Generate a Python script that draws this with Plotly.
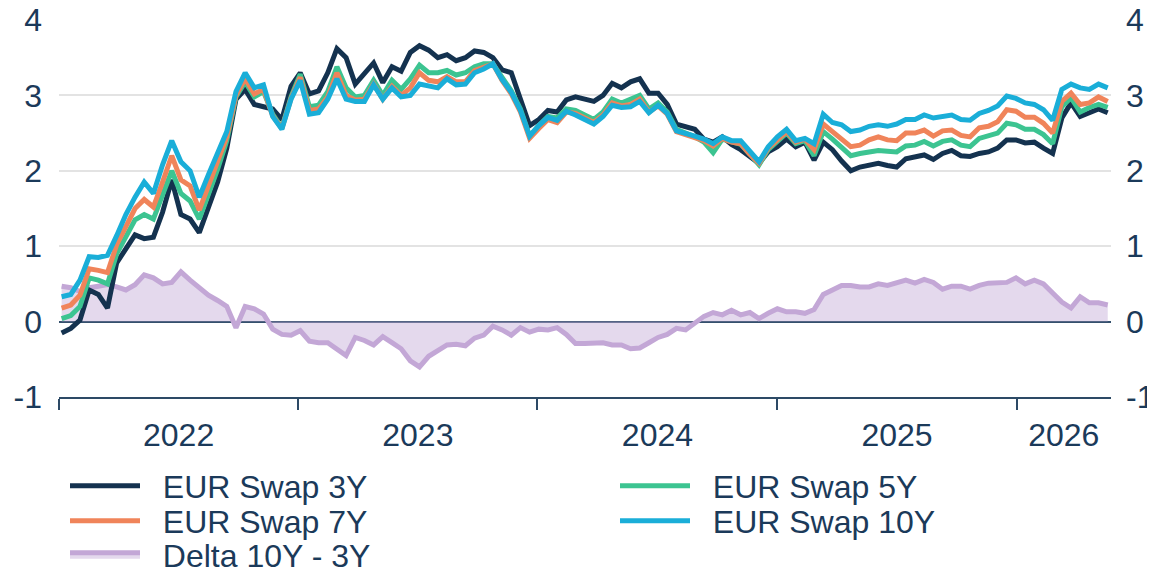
import pandas as pd
import plotly.graph_objects as go

dates = pd.date_range("2022-01-05", periods=115, freq="14D")

swap3y = [
    -0.15, -0.09, 0.02, 0.42, 0.36, 0.18, 0.78, 0.98, 1.15, 1.10,
    1.12, 1.45, 1.88, 1.42, 1.36, 1.18, 1.50, 1.85, 2.30, 2.95,
    3.08, 2.88, 2.85, 2.82, 2.68, 3.12, 3.30, 3.02, 3.06, 3.30,
    3.62, 3.50, 3.15, 3.30, 3.43, 3.17, 3.38, 3.32, 3.57, 3.66,
    3.60, 3.50, 3.54, 3.46, 3.50, 3.59, 3.57, 3.50, 3.34, 3.30,
    2.94, 2.60, 2.68, 2.80, 2.78, 2.94, 2.98, 2.95, 2.92, 3.00,
    3.16, 3.10, 3.18, 3.22, 3.03, 3.03, 2.88, 2.62, 2.59, 2.55,
    2.42, 2.38, 2.45, 2.35, 2.28, 2.18, 2.10, 2.25, 2.32, 2.42,
    2.32, 2.38, 2.14, 2.38, 2.28, 2.13, 2.00, 2.05, 2.08, 2.10,
    2.07, 2.05, 2.16, 2.18, 2.21, 2.15, 2.23, 2.27, 2.20, 2.19,
    2.23, 2.25, 2.30, 2.41, 2.41, 2.37, 2.38, 2.30, 2.23, 2.70,
    2.90, 2.72, 2.77, 2.82, 2.77,
]

swap5y = [
    0.04, 0.08, 0.20, 0.58, 0.55, 0.50, 0.90, 1.12, 1.35, 1.42,
    1.36, 1.68, 2.00, 1.70, 1.60, 1.36, 1.68, 2.02, 2.40, 2.98,
    3.18, 2.98, 3.05, 2.75, 2.57, 2.98, 3.28, 2.85, 2.87, 3.05,
    3.38, 3.10, 2.98, 3.00, 3.20, 3.00, 3.20, 3.08, 3.22, 3.40,
    3.30, 3.30, 3.33, 3.27, 3.30, 3.38, 3.42, 3.42, 3.24, 3.06,
    2.82, 2.46, 2.60, 2.72, 2.70, 2.82, 2.80, 2.74, 2.68, 2.78,
    2.95, 2.90, 2.95, 3.00, 2.82, 2.90, 2.78, 2.55, 2.50, 2.45,
    2.38, 2.24, 2.42, 2.38, 2.35, 2.22, 2.08, 2.28, 2.40, 2.50,
    2.36, 2.40, 2.20, 2.52, 2.42, 2.30, 2.20, 2.23, 2.25, 2.27,
    2.26, 2.25, 2.33, 2.34, 2.39, 2.33, 2.39, 2.41, 2.34, 2.32,
    2.43, 2.46, 2.50, 2.63, 2.61, 2.55, 2.55, 2.48, 2.36, 2.85,
    2.97, 2.78, 2.84, 2.88, 2.84,
]

swap7y = [
    0.18, 0.22, 0.35, 0.70, 0.68, 0.65, 1.02, 1.25, 1.50, 1.62,
    1.52, 1.85, 2.20, 1.88, 1.80, 1.48, 1.80, 2.12, 2.45, 3.00,
    3.22, 3.02, 3.08, 2.73, 2.56, 2.96, 3.24, 2.80, 2.82, 2.98,
    3.30, 3.00, 2.94, 2.95, 3.15, 2.95, 3.12, 3.00, 3.10, 3.30,
    3.20, 3.18, 3.25, 3.18, 3.18, 3.33, 3.38, 3.42, 3.20, 3.02,
    2.78, 2.43, 2.56, 2.68, 2.64, 2.78, 2.76, 2.70, 2.64, 2.74,
    2.90, 2.86, 2.88, 2.95, 2.78, 2.86, 2.75, 2.52, 2.48, 2.45,
    2.40, 2.33, 2.43, 2.38, 2.36, 2.22, 2.10, 2.30, 2.42, 2.52,
    2.38, 2.42, 2.28, 2.62, 2.52, 2.43, 2.32, 2.34, 2.41, 2.45,
    2.41, 2.40, 2.50, 2.50, 2.54, 2.46, 2.53, 2.54, 2.47, 2.45,
    2.57, 2.59, 2.65, 2.81, 2.79, 2.71, 2.71, 2.63, 2.50, 2.92,
    3.03, 2.88, 2.90, 2.98, 2.92,
]

swap10y = [
    0.33, 0.36, 0.55, 0.86, 0.85, 0.88, 1.14, 1.42, 1.65, 1.85,
    1.70, 2.08, 2.40, 2.12, 2.00, 1.65, 1.95, 2.25, 2.52, 3.05,
    3.30, 3.10, 3.14, 2.72, 2.55, 2.95, 3.20, 2.75, 2.77, 2.95,
    3.22, 2.95, 2.92, 2.92, 3.14, 2.95, 3.10, 2.98, 3.00, 3.15,
    3.12, 3.10, 3.22, 3.14, 3.15, 3.30, 3.35, 3.42, 3.21, 3.04,
    2.80, 2.46, 2.60, 2.71, 2.67, 2.79, 2.74, 2.68, 2.62, 2.72,
    2.87, 2.84, 2.85, 2.92, 2.77, 2.87, 2.76, 2.53, 2.50, 2.46,
    2.42, 2.36, 2.45, 2.40, 2.40, 2.26, 2.12, 2.32, 2.45, 2.55,
    2.40, 2.43, 2.36, 2.75, 2.64, 2.61, 2.52, 2.54, 2.59, 2.61,
    2.59, 2.62, 2.68, 2.68, 2.74, 2.70, 2.72, 2.74, 2.68, 2.67,
    2.76, 2.80, 2.86, 2.99, 2.96, 2.90, 2.88, 2.81, 2.67, 3.08,
    3.15, 3.10, 3.08, 3.15, 3.10,
]

delta_10y_3y = [
    0.47, 0.45, 0.40, 0.45, 0.47, 0.49, 0.46, 0.42, 0.49, 0.62,
    0.58, 0.50, 0.52, 0.66, 0.55, 0.45, 0.35, 0.28, 0.20, -0.08,
    0.20, 0.17, 0.10, -0.10, -0.17, -0.18, -0.12, -0.26, -0.28, -0.28,
    -0.36, -0.45, -0.21, -0.25, -0.31, -0.20, -0.28, -0.36, -0.52, -0.60,
    -0.46, -0.38, -0.31, -0.30, -0.32, -0.22, -0.18, -0.06, -0.11, -0.18,
    -0.08, -0.14, -0.10, -0.11, -0.08, -0.17, -0.29, -0.29, -0.29, -0.28,
    -0.31, -0.31, -0.36, -0.35, -0.28, -0.21, -0.17, -0.09, -0.11, -0.02,
    0.07, 0.12, 0.09, 0.15, 0.09, 0.12, 0.04, 0.11, 0.17, 0.13,
    0.13, 0.11, 0.16, 0.36, 0.42, 0.48, 0.48, 0.46, 0.46, 0.50,
    0.48, 0.51, 0.55, 0.51, 0.56, 0.52, 0.43, 0.47, 0.47, 0.43,
    0.48, 0.51, 0.51, 0.52, 0.58, 0.50, 0.55, 0.50, 0.38, 0.26,
    0.18, 0.33, 0.25, 0.25, 0.22,
]

y_ticks = [-1, 0, 1, 2, 3, 4]
y_tick_labels = ["-1", "0", "1", "2", "3", "4"]
year_labels = ["2022", "2023", "2024", "2025", "2026"]
x_range = ["2022-01-01", "2026-05-25"]

# year boundaries (tick marks) and centred year labels within the visible range
r0, r1 = pd.Timestamp(x_range[0]), pd.Timestamp(x_range[1])
year_starts = [pd.Timestamp(f"{y}-01-01") for y in year_labels]
label_pos = []
for ys in year_starts:
    a = max(ys, r0)
    b = min(pd.Timestamp(year=ys.year + 1, month=1, day=1), r1)
    label_pos.append(a + (b - a) / 2)

# ---- styling ----
NAVY_TEXT = "#1b3a5a"
AXIS_COL = "#2d4a66"
FONT = "Liberation Sans, Arial, sans-serif"
FS = 32
C3, C5, C7, C10 = "#14324f", "#3cc491", "#f0845a", "#1aaed8"
C_DELTA_LINE = "#c3a7d6"
C_DELTA_FILL = "rgba(196,170,214,0.45)"
LW = 5
NB = "\u00a0\u00a0"  # small gap between legend symbol and text

# the page body has an 8px default margin, so the figure is 8px smaller
W, H = 1147, 564

fig = go.Figure()

fig.add_trace(go.Scatter(
    x=dates, y=delta_10y_3y, name=NB + "Delta 10Y - 3Y", mode="lines",
    line=dict(color=C_DELTA_LINE, width=LW), fill="tozeroy",
    fillcolor=C_DELTA_FILL, legend="legend5", hoverinfo="skip"))

for name, vals, col, leg in [
    ("EUR Swap 3Y", swap3y, C3, "legend"),
    ("EUR Swap 5Y", swap5y, C5, "legend2"),
    ("EUR Swap 7Y", swap7y, C7, "legend3"),
    ("EUR Swap 10Y", swap10y, C10, "legend4"),
]:
    fig.add_trace(go.Scatter(
        x=dates, y=vals, name=NB + name, mode="lines",
        line=dict(color=col, width=LW), legend=leg, hoverinfo="skip"))

# invisible companion trace so the right-hand axis and label axis are drawn
fig.add_trace(go.Scatter(
    x=dates, y=swap3y, mode="lines", line=dict(width=0, color="rgba(0,0,0,0)"),
    xaxis="x2", yaxis="y2", showlegend=False, hoverinfo="skip"))

leg_common = dict(
    orientation="h", xref="container", yref="container",
    xanchor="left", yanchor="middle",
    font=dict(family=FONT, size=FS, color=NAVY_TEXT),
    itemwidth=70, bgcolor="rgba(0,0,0,0)", borderwidth=0,
)
col_x = [(65 - 8) / W, (615 - 8) / W]
row_y = [1 - (486 - 8) / H, 1 - (521 - 8) / H, 1 - (555 - 8) / H]

fig.update_layout(
    width=W, height=H,
    margin=dict(l=51, r=44, t=12, b=175, autoexpand=False),
    paper_bgcolor="white", plot_bgcolor="white",
    font=dict(family=FONT, size=FS, color=NAVY_TEXT),
    showlegend=True,
    legend=dict(**leg_common, x=col_x[0], y=row_y[0]),
    legend2=dict(**leg_common, x=col_x[1], y=row_y[0]),
    legend3=dict(**leg_common, x=col_x[0], y=row_y[1]),
    legend4=dict(**leg_common, x=col_x[1], y=row_y[1]),
    legend5=dict(**leg_common, x=col_x[0], y=row_y[2]),
    xaxis=dict(
        type="date", range=x_range, tickmode="array", tickvals=year_starts,
        showticklabels=False,
        ticks="outside", ticklen=11, tickwidth=2, tickcolor=AXIS_COL,
        showline=True, linecolor=AXIS_COL, linewidth=2,
        showgrid=False, zeroline=False,
    ),
    xaxis2=dict(
        type="date", range=x_range, overlaying="x", side="bottom", anchor="y",
        tickmode="array", tickvals=label_pos, ticktext=year_labels,
        ticks="", showline=False, showgrid=False, zeroline=False,
        ticklabelstandoff=16, ticklabeloverflow="allow",
        tickfont=dict(family=FONT, size=FS, color=NAVY_TEXT),
    ),
    yaxis=dict(
        range=[-1, 4], tickvals=y_ticks, ticktext=y_tick_labels,
        showgrid=True, gridcolor="#e3e3e3", gridwidth=2,
        zeroline=True, zerolinecolor="#34506d", zerolinewidth=2,
        showline=False, ticks="", ticklabelstandoff=16,
        ticklabeloverflow="allow",
        tickfont=dict(family=FONT, size=FS, color=NAVY_TEXT),
    ),
    yaxis2=dict(
        range=[-1, 4], tickvals=y_ticks, ticktext=y_tick_labels,
        overlaying="y", side="right", anchor="x", showgrid=False, zeroline=False,
        showline=False, ticks="", ticklabelstandoff=14,
        ticklabeloverflow="allow",
        tickfont=dict(family=FONT, size=FS, color=NAVY_TEXT),
    ),
)

fig.write_html("out.html")
